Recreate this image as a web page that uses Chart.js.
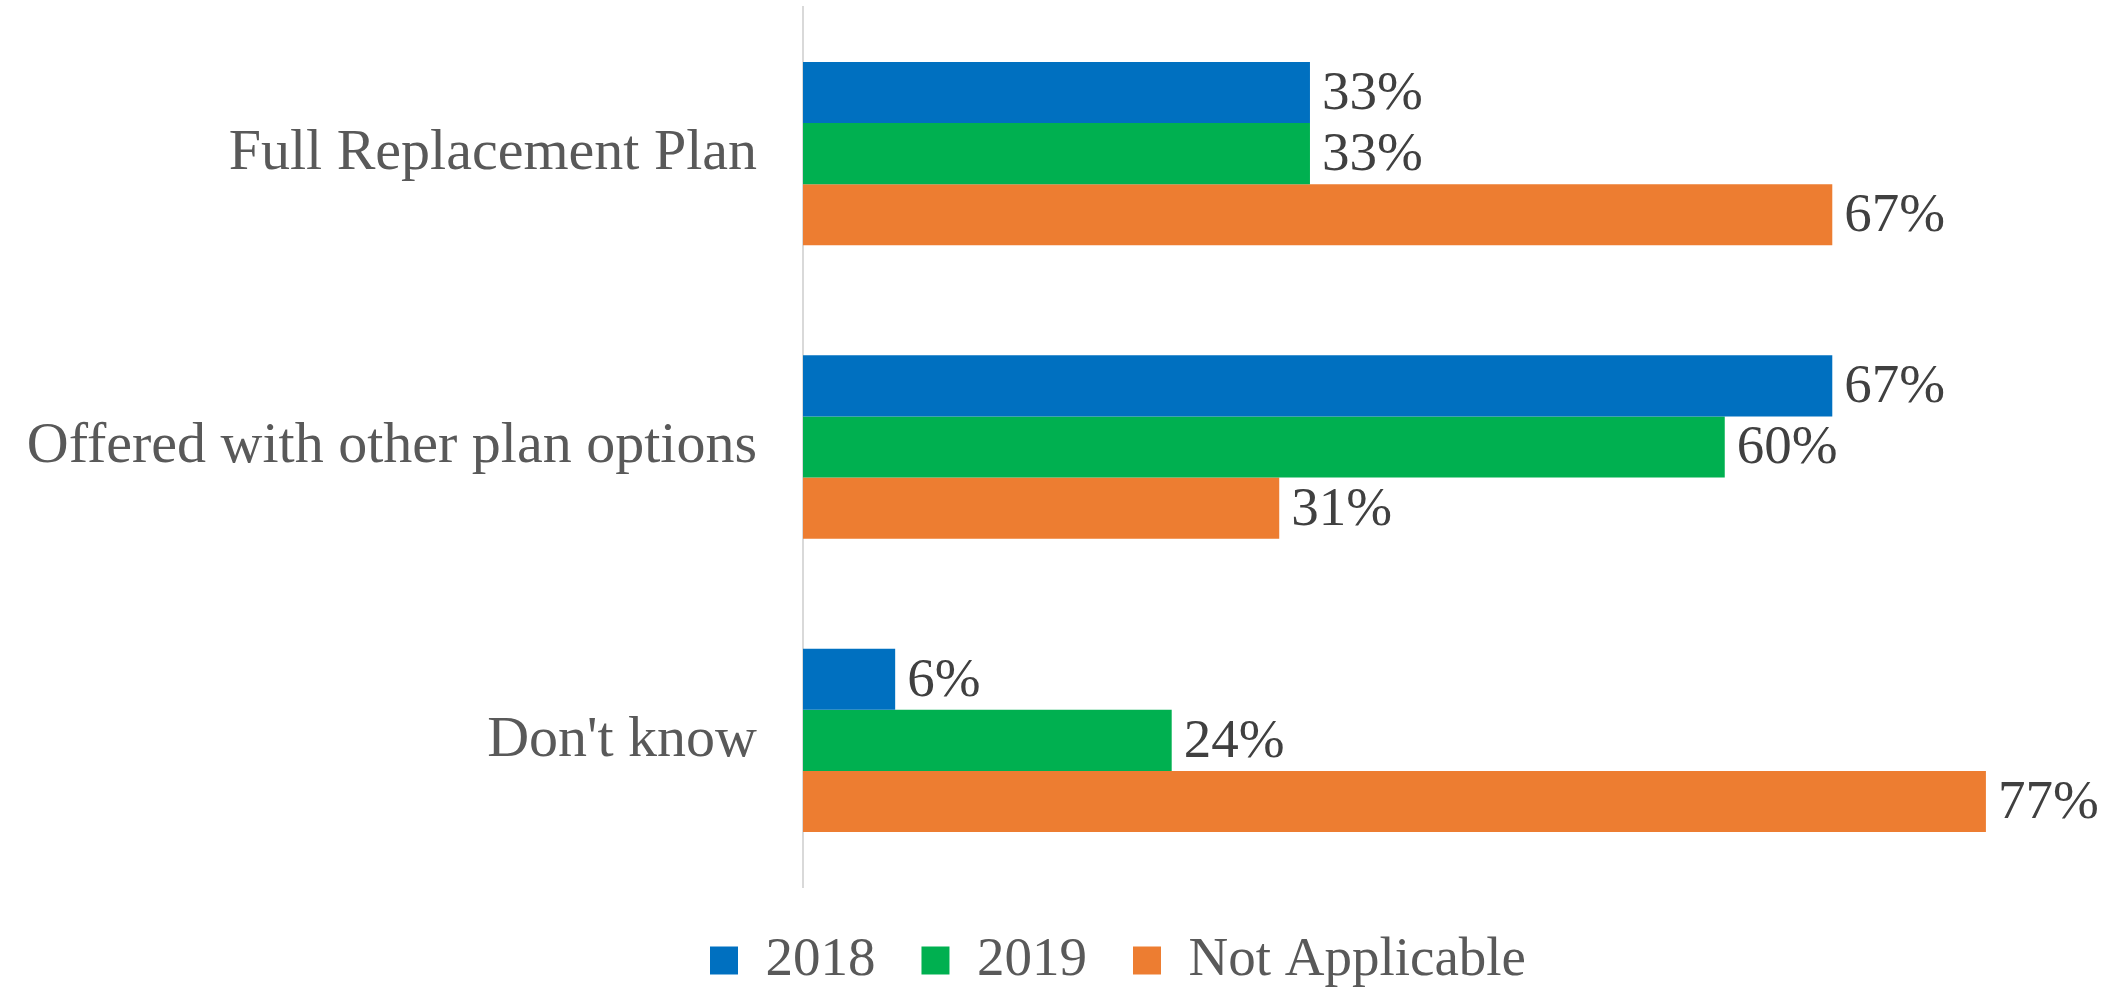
<!DOCTYPE html>
<html>
<head>
<meta charset="utf-8">
<script src="https://cdn.jsdelivr.net/npm/chart.js@4"></script>
<style>
    html, body { margin: 0; padding: 0; background: #fff; }
    #wrap { width: 2113px; height: 988px; }
</style>
</head>
<body>
<div id="wrap"><canvas id="planChart"></canvas></div>
<script>
const categories = ["Full Replacement Plan", "Offered with other plan options", "Don't know"]
const seriesNames = ["2018", "2019", "Not Applicable"]
const values2018 = [33, 67, 6]
const values2019 = [33, 60, 24]
const valuesNA = [67, 31, 77]
const colors = ["#0070C0", "#00B050", "#ED7D31"]

const serif = "'Liberation Serif', 'Times New Roman', serif"

// percent text to the right of each bar
const barLabels = {
    id: "barLabels",
    afterDatasetsDraw(chart) {
        const ctx = chart.ctx
        ctx.save()
        ctx.font = "55px " + serif
        ctx.fillStyle = "#404040"
        ctx.textAlign = "left"
        ctx.textBaseline = "middle"
        chart.data.datasets.forEach((ds, i) => {
            chart.getDatasetMeta(i).data.forEach((bar, j) => {
                ctx.fillText(ds.data[j] + "%", bar.x + 12, bar.y + 2)
            })
        })
        ctx.restore()
    }
}

// nudge the legend row to the right
const legendShift = {
    id: "legendShift",
    afterLayout(chart) {
        chart.legend.left += 102
        chart.legend.right += 102
    }
}

const ctx = document.getElementById("planChart")

new Chart(ctx, {
    type: "bar",
    data: {
        labels: categories,
        datasets: [
            { label: seriesNames[0], data: values2018, backgroundColor: colors[0] },
            { label: seriesNames[1], data: values2019, backgroundColor: colors[1] },
            { label: seriesNames[2], data: valuesNA, backgroundColor: colors[2] }
        ]
    },
    options: {
        indexAxis: "y",
        responsive: true,
        maintainAspectRatio: false,
        animation: false,
        datasets: {
            bar: { categoryPercentage: 0.625, barPercentage: 1 }
        },
        layout: {
            padding: { left: 0, right: 81, top: 7, bottom: -10 }
        },
        scales: {
            x: {
                min: 0,
                max: 80,
                display: false
            },
            y: {
                grid: { display: false },
                border: { display: true, color: "#d9d9d9", width: 2 },
                ticks: {
                    color: "#595959",
                    padding: 38,
                    font: { family: serif, size: 58 }
                },
                afterFit: function(scale) {
                    scale.width = 803
                    scale.paddingTop = 0
                    scale.paddingBottom = 0
                }
            }
        },
        plugins: {
            legend: {
                position: "bottom",
                labels: {
                    color: "#595959",
                    boxWidth: 28,
                    boxHeight: 28,
                    padding: 46,
                    font: { family: serif, size: 55 }
                }
            },
            tooltip: { enabled: false }
        }
    },
    plugins: [barLabels, legendShift]
})
</script>
</body>
</html>
